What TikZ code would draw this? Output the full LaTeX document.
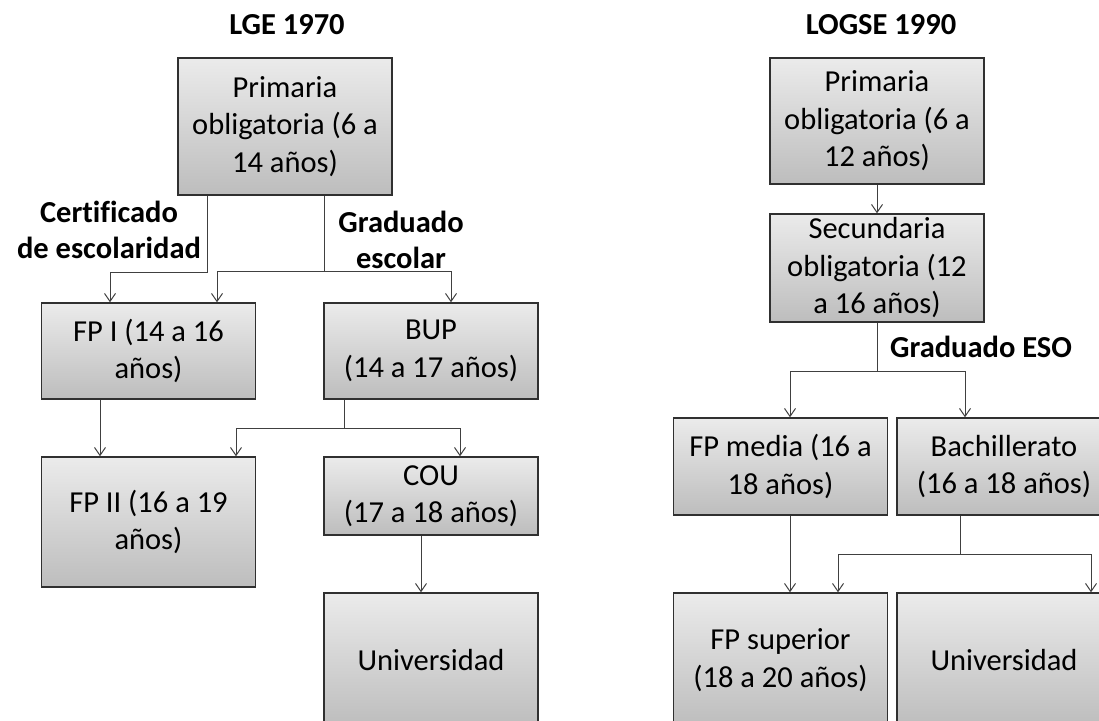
\documentclass[tikz,border=0pt]{standalone}
\usepackage{fontspec}
\setmainfont{Carlito}[Ligatures=CommonOff]
\usetikzlibrary{arrows.meta}
\definecolor{cajaArriba}{HTML}{EBEBEB}
\definecolor{cajaAbajo}{HTML}{BDBDBD}
\definecolor{borde}{HTML}{303030}
\definecolor{linea}{HTML}{404040}
\begin{document}
\begin{tikzpicture}[x=1pt, y=-1pt,
    every node/.style={font=\fontsize{30.5}{37.5}\selectfont, inner sep=0pt},
    caja/.style={draw=borde, line width=1.4pt, top color=cajaArriba, bottom color=cajaAbajo, minimum width=214pt, align=center},
    titulo/.style={font=\fontsize{30.5}{36}\selectfont\bfseries, align=center},
    flecha/.style={draw=linea, line width=1pt, -{Straight Barb[length=8pt, width=11pt]}}]
        \useasboundingbox (0,0) rectangle (1099,720);
        \clip (0,0) rectangle (1099,720);
        \node [titulo] (tLGE) at (287,25) {LGE 1970};
        \node [titulo] (tLOGSE) at (881,25) {LOGSE 1990};
        \node [caja, minimum height=137pt] (priL) at (285,126.5) {Primaria\\obligatoria (6 a\\14 años)};
        \node [caja, minimum height=96pt] (fp1) at (148.5,351) {FP I (14 a 16\\años)};
        \node [caja, minimum height=96pt] (bup) at (431,351) {BUP\\(14 a 17 años)};
        \node [caja, minimum height=130pt] (fp2) at (148.5,522) {FP II (16 a 19\\años)};
        \node [caja, minimum height=78pt] (cou) at (431,496) {COU\\(17 a 18 años)};
        \node [caja, minimum height=134pt] (uniL) at (431,660) {Universidad};
        \node [caja, minimum height=126pt] (priR) at (877,121) {Primaria\\obligatoria (6 a\\12 años)};
        \node [caja, minimum height=108pt] (sec) at (877,268) {Secundaria\\obligatoria (12\\a 16 años)};
        \node [caja, minimum height=97pt] (fpm) at (780.5,466.5) {FP media (16 a\\18 años)};
        \node [caja, minimum height=97pt] (bach) at (1004,466.5) {Bachillerato\\(16 a 18 años)};
        \node [caja, minimum height=134pt] (fps) at (780.5,660) {FP superior\\(18 a 20 años)};
        \node [caja, minimum height=134pt] (uniR) at (1004,660) {Universidad};
        \node [titulo] (cert) at (109,230) {Certificado\\de escolaridad};
        \node [titulo] (grad) at (401,240) {Graduado\\escolar};
        \node [titulo] (eso) at (981,347) {Graduado ESO};
        \draw [flecha] ([xshift=-78pt]priL.south) -- ++(0,77) -| ([xshift=-38.5pt]fp1.north);
        \draw [flecha] ([xshift=39pt]priL.south) -- ++(0,76) coordinate (gradC) -| ([xshift=68.5pt]fp1.north);
        \draw [flecha] (gradC) -| ([xshift=20pt]bup.north);
        \draw [flecha] ([xshift=-48.5pt]fp1.south) -- ([xshift=-48.5pt]fp2.north);
        \draw [flecha] ([xshift=-87pt]bup.south) -- ++(0,29) coordinate (bupC) -| ([xshift=87.5pt]fp2.north);
        \draw [flecha] (bupC) -| ([xshift=29pt]cou.north);
        \draw [flecha] ([xshift=-10pt]cou.south) -- ([xshift=-10pt]uniL.north);
        \draw [flecha] (priR.south) -- (sec.north);
        \draw [flecha] (sec.south) -- ++(0,49) coordinate (esoC) -| ([xshift=9.5pt]fpm.north);
        \draw [flecha] (esoC) -| ([xshift=-39pt]bach.north);
        \draw [flecha] ([xshift=9.5pt]fpm.south) -- ([xshift=9.5pt]fps.north);
        \draw [flecha] ([xshift=-44pt]bach.south) -- ++(0,39) coordinate (bachC) -| ([xshift=57.5pt]fps.north);
        \draw [flecha] (bachC) -| ([xshift=87pt]uniR.north);
      \end{tikzpicture}
\end{document}
